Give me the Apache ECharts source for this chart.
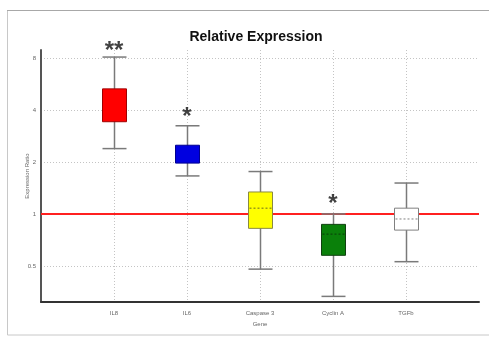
<!DOCTYPE html>
<html>
<head>
<meta charset="utf-8">
<script src="https://cdn.jsdelivr.net/npm/echarts@6/dist/echarts.min.js"></script>
<style>
html,body{margin:0;padding:0;background:#fff;}
#c{width:489px;height:337px;}
</style>
</head>
<body>
<div id="c"></div>
<script>
// ---- data ----
const genes = ['IL8', 'IL6', 'Caspase 3', 'Cyclin A', 'TGFb'];
const lows    = [2.39, 1.66, 0.479, 0.333, 0.529];
const q1s     = [3.42, 1.97, 0.825, 0.576, 0.806];
const medians = [4.2,  2.2,  1.08,  0.764, 0.935];
const q3s     = [5.3,  2.5,  1.34,  0.87,  1.08];
const highs   = [8.1,  3.24, 1.76,  1.0,   1.51];
const starValues = [9.4, 3.85, null, 1.22, null];
const starTexts  = ['**', '*', '', '*', ''];
const yTicks = [0.5, 1, 2, 4, 8];
const refValue = 1;

// ---- styles ----
const fills   = ['#ff0000', '#0000e0', '#ffff00', '#0a800a', '#ffffff'];
const borders = ['#a00000', '#000090', '#8a8a40', '#104010', '#808080'];
const medColors = ['#ff0000', '#0000e0', '#6a6a20', '#0a3a0a', '#808080'];

const cats = [''].concat(genes).concat(['']);
const boxData = genes.map((g, i) => [i + 1, lows[i], q1s[i], medians[i], q3s[i], highs[i]]);
const starData = genes.map((g, i) => starValues[i] == null ? null : { value: [i + 1, starValues[i]], text: starTexts[i] }).filter(d => d);

const chart = echarts.init(document.getElementById('c'));
chart.setOption({
  backgroundColor: '#fff',
  animation: false,
  graphic: [{
    type: 'rect', shape: { x: 7.5, y: 10.5, width: 500, height: 324.5 },
    style: { fill: '#fff', stroke: '#c8c8c8', lineWidth: 1 }, z: -10
  }, {
    type: 'line', shape: { x1: 7, y1: 10.5, x2: 489, y2: 10.5 },
    style: { stroke: '#a8a8a8', lineWidth: 1 }, z: -9
  }],
  title: {
    text: 'Relative Expression', left: 251, top: 25, textAlign: 'center',
    textStyle: { fontFamily: 'Liberation Sans, Arial', fontWeight: 'bold', fontSize: 14, color: '#111' }
  },
  grid: { left: 41, right: 10, top: 50, bottom: 35 },
  xAxis: {
    type: 'category', data: cats, boundaryGap: false,
    name: 'Gene', nameLocation: 'middle', nameGap: 19,
    nameTextStyle: { fontSize: 6, color: '#666', fontFamily: 'Liberation Sans, Arial' },
    axisLine: { lineStyle: { color: '#333', width: 2 } },
    axisTick: { show: false },
    axisLabel: { fontSize: 6, color: '#666', margin: 8, interval: 0, fontFamily: 'Liberation Sans, Arial' },
    splitLine: { show: true, interval: (i) => i > 0 && i < cats.length - 1, lineStyle: { color: '#c4c4c4', type: [1, 2], width: 1 } }
  },
  yAxis: {
    type: 'log', logBase: 2, min: 0.309, max: 8.9,
    name: 'Expression Ratio', nameLocation: 'middle', nameGap: 11, nameMoveOverlap: false,
    nameTextStyle: { fontSize: 6, color: '#666', fontFamily: 'Liberation Sans, Arial' },
    axisLine: { show: true, lineStyle: { color: '#555', width: 2 } },
    axisTick: { show: false },
    axisLabel: {
      fontSize: 6, color: '#666', margin: 5, fontFamily: 'Liberation Sans, Arial',
      showMinLabel: false, showMaxLabel: false,
      formatter: (v) => { const m = yTicks.find(t => Math.abs(t - v) < 1e-6); return m == null ? '' : String(m); }
    },
    splitLine: { show: true, showMinLine: false, showMaxLine: false, lineStyle: { color: '#c4c4c4', type: [1, 2], width: 1 } }
  },
  series: [{
    type: 'custom',
    data: boxData,
    encode: { x: 0, y: [1, 2, 3, 4, 5] },
    z: 5,
    renderItem: function (params, api) {
      const i = params.dataIndex;
      const x = api.value(0);
      const pLow = api.coord([x, api.value(1)]);
      const pQ1 = api.coord([x, api.value(2)]);
      const pMed = api.coord([x, api.value(3)]);
      const pQ3 = api.coord([x, api.value(4)]);
      const pHigh = api.coord([x, api.value(5)]);
      const hw = 12;
      const cx = Math.round(pLow[0]) + 0.5;
      const wStyle = { stroke: '#7a7a7a', lineWidth: 1.5 };
      return {
        type: 'group',
        children: [
          { type: 'line', shape: { x1: cx, y1: pLow[1], x2: cx, y2: pHigh[1] }, style: wStyle },
          { type: 'line', shape: { x1: cx - hw, y1: pLow[1], x2: cx + hw, y2: pLow[1] }, style: wStyle },
          { type: 'line', shape: { x1: cx - hw, y1: pHigh[1], x2: cx + hw, y2: pHigh[1] }, style: wStyle },
          { type: 'rect', shape: { x: cx - hw, y: pQ3[1], width: 2 * hw, height: pQ1[1] - pQ3[1] },
            style: { fill: fills[i], stroke: borders[i], lineWidth: 1 } },
          { type: 'line', shape: { x1: cx - hw + 1, y1: pMed[1], x2: cx + hw - 1, y2: pMed[1] },
            style: { stroke: medColors[i], lineWidth: 1, lineDash: [2, 2] } }
        ]
      };
    }
  }, {
    type: 'scatter',
    data: starData,
    symbolSize: 1,
    itemStyle: { color: 'rgba(0,0,0,0)' },
    clip: false,
    z: 6,
    label: {
      show: true, position: 'inside', formatter: (p) => p.data.text,
      fontSize: 24, fontWeight: 'bold', color: '#111', fontFamily: 'Liberation Sans, Arial', offset: [0, 5]
    },
    markLine: {
      silent: true, symbol: 'none', label: { show: false },
      lineStyle: { color: '#ff2020', width: 2, type: 'solid' },
      data: [{ yAxis: refValue }]
    }
  }]
});
</script>
</body>
</html>
